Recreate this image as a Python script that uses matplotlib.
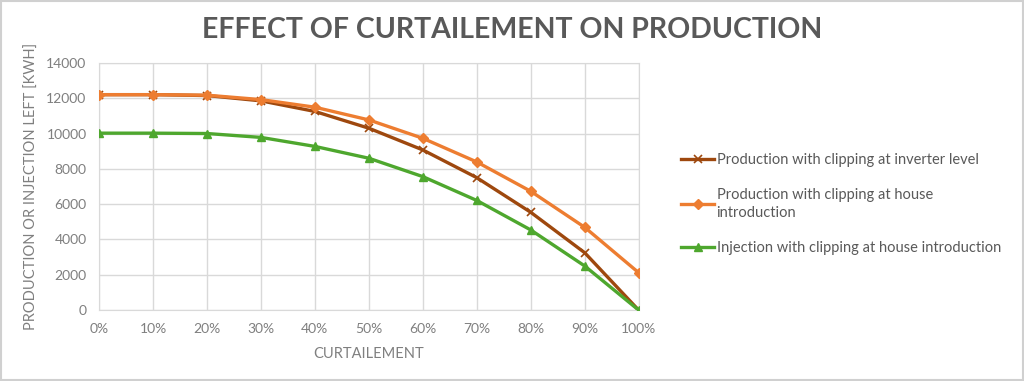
import numpy as np
import matplotlib
matplotlib.use('Agg')
import matplotlib.pyplot as plt
from matplotlib.patches import Rectangle

plt.rcParams['font.family'] = ['Lato', 'DejaVu Sans']

curtail = [0, 10, 20, 30, 40, 50, 60, 70, 80, 90, 100]
tick_labels = [f'{c}%' for c in curtail]
inverter = [12200, 12200, 12150, 11850, 11250, 10300, 9070, 7500, 5540, 3250, 0]
house = [12200, 12200, 12170, 11920, 11490, 10770, 9730, 8390, 6730, 4690, 2120]
injection = [10020, 10020, 10000, 9780, 9270, 8600, 7560, 6210, 4540, 2500, 0]

series_names = ['Production with clipping at inverter level',
                'Production with clipping at house\nintroduction',
                'Injection with clipping at house introduction']

grey = '#7f7f7f'
fig = plt.figure(figsize=(10.24, 3.81), dpi=100)
ax = fig.add_axes([0.0967, 0.186, 0.527, 0.649])

ax.plot(curtail, inverter, '-x', color='#9E480E', linewidth=2.4, markersize=6,
        markeredgewidth=1.2, label=series_names[0], zorder=3)
ax.plot(curtail, house, '-D', color='#ED7D31', linewidth=2.4, markersize=5,
        label=series_names[1], zorder=3)
ax.plot(curtail, injection, '-^', color='#4EA72E', linewidth=2.4, markersize=6,
        label=series_names[2], zorder=3)

ax.set_xlim(0, 100)
ax.set_ylim(0, 14000)
ax.set_xticks(curtail)
ax.set_xticklabels(tick_labels)
ax.set_yticks(np.arange(0, 14001, 2000))
ax.tick_params(colors=grey, labelsize=10, length=0, pad=9)
ax.grid(True, color='#d9d9d9', linewidth=1)
ax.set_axisbelow(True)
for s in ax.spines.values():
    s.set_color('#d9d9d9')
ax.set_xlabel('CURTAILEMENT', color=grey, fontsize=10.5, labelpad=9)
ax.set_ylabel('PRODUCTION OR INJECTION LEFT [KWH]', color=grey, fontsize=10.5, labelpad=5)

fig.suptitle('EFFECT OF CURTAILEMENT ON PRODUCTION', x=0.5, y=0.955,
             fontsize=20.5, fontweight='bold', color='#595959')

leg = ax.legend(loc='center left', bbox_to_anchor=(1.054, 0.43), frameon=False,
                fontsize=10.5, labelspacing=1.45, handlelength=2.3, handletextpad=0.15)
for t in leg.get_texts():
    t.set_color('#595959')
    t.set_linespacing(1.35)

fig.patches.append(Rectangle((0.001, 0.002), 0.998, 0.996, transform=fig.transFigure,
                             fill=False, edgecolor='#d0d0d0', linewidth=1.5))

fig.savefig('out.png', dpi=100)
